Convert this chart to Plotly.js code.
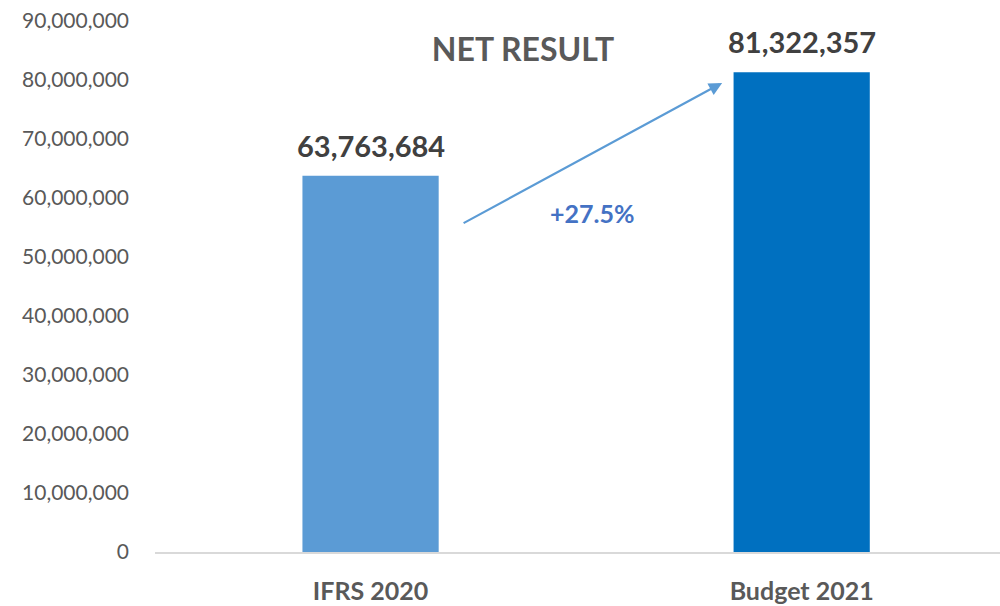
<!DOCTYPE html>
<html>
<head>
<meta charset="utf-8">
<script src="https://cdn.plot.ly/plotly-3.0.1.min.js"></script>
<style>html,body{margin:0;padding:0;background:#fff}#chart{width:1000px;height:606px}</style>
</head>
<body>
<div id="chart"></div>
<script>
const categories = ["IFRS 2020", "Budget 2021"];
const values = [63763684, 81322357];
const barColors = ["#5B9BD5", "#0070C0"];
const changeLabel = "+27.5%";
const chartTitle = "NET RESULT";
const yTicks = [0, 10000000, 20000000, 30000000, 40000000, 50000000, 60000000, 70000000, 80000000, 90000000];

const fmt = v => v.toLocaleString("en-US");
const FONT = "Lato, 'Open Sans', sans-serif";

const trace = {
  type: "bar",
  x: categories,
  y: values,
  marker: {color: barColors},
  hoverinfo: "none"
};

const annotations = categories.map((c, i) => ({
  x: c, y: values[i], xref: "x", yref: "y",
  text: "<b>" + fmt(values[i]) + "</b>",
  showarrow: false, yanchor: "bottom", yshift: 11,
  font: {family: FONT, size: 29, color: "#404040"}
}));

annotations.push({
  x: 0.8155, y: 79500000, ax: 0.2123, ay: 55600000,
  xref: "x", yref: "y", axref: "x", ayref: "y",
  text: "", showarrow: true, arrowhead: 2, arrowsize: 1.2, arrowwidth: 2.2,
  arrowcolor: "#5B9BD5", standoff: 0, startstandoff: 0
});
annotations.push({
  x: (592 - 155) / 845, y: (552 - 213) / 531, xref: "paper", yref: "paper",
  text: "<b>" + changeLabel + "</b>", showarrow: false,
  xanchor: "center", yanchor: "middle",
  font: {family: FONT, size: 25, color: "#4472C4"}
});

const layout = {
  width: 1000, height: 606,
  margin: {l: 155, r: 0, t: 21, b: 54, pad: 0},
  paper_bgcolor: "#ffffff", plot_bgcolor: "#ffffff",
  showlegend: false,
  bargap: 0.684,
  title: {
    text: "<b>" + chartTitle + "</b>",
    x: 523 / 1000, xanchor: "center", y: 1 - 50 / 606, yanchor: "middle",
    font: {family: FONT, size: 32, color: "#595959"}
  },
  xaxis: {
    type: "category",
    range: [-0.5, 1.46],
    showgrid: false, zeroline: false,
    showline: true, linecolor: "#D9D9D9", linewidth: 1.5,
    ticks: "", ticklabelstandoff: 16,
    tickfont: {family: FONT, size: 25, color: "#595959", weight: "bold"}
  },
  yaxis: {
    range: [0, 90000000],
    tickvals: yTicks,
    tickformat: ",d",
    showgrid: false, zeroline: false, showline: false,
    ticks: "", ticklabelstandoff: 25,
    tickfont: {family: FONT, size: 21, color: "#595959"}
  },
  annotations: annotations
};

Plotly.newPlot("chart", [trace], layout, {displayModeBar: false, staticPlot: true});
</script>
</body>
</html>
